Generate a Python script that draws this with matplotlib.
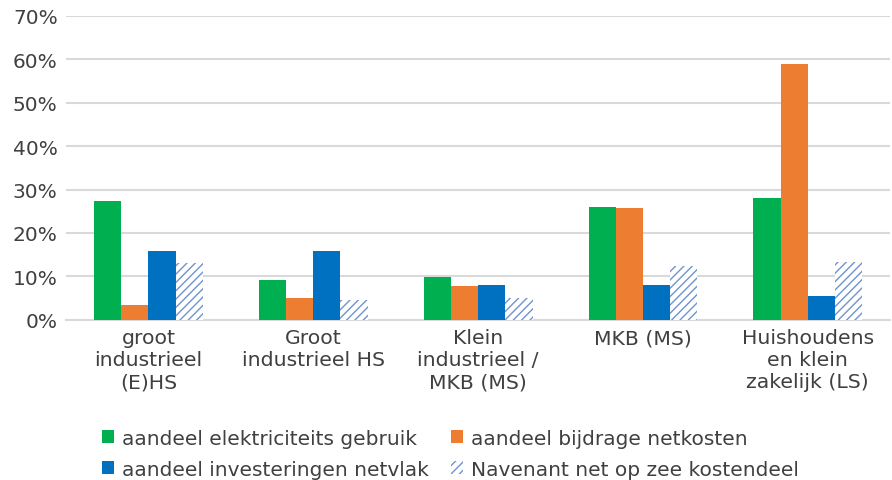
import numpy as np
import matplotlib.pyplot as plt
from matplotlib.ticker import PercentFormatter

categories = ['groot\nindustrieel\n(E)HS', 'Groot\nindustrieel HS', 'Klein\nindustrieel /\nMKB (MS)',
              'MKB (MS)', 'Huishoudens\nen klein\nzakelijk (LS)']
gebruik = [27.4, 9.2, 9.9, 26.0, 28.1]
netkosten = [3.5, 5.1, 7.8, 25.8, 58.8]
investeringen = [15.9, 15.9, 8.1, 8.1, 5.5]
net_op_zee = [13.1, 4.6, 5.0, 12.4, 13.4]

plt.rcParams['font.family'] = 'DejaVu Sans'
plt.rcParams['hatch.linewidth'] = 1.0

fig = plt.figure(figsize=(8.92, 4.81), dpi=100)
ax = fig.add_axes([0.074, 0.333, 0.924, 0.632])

x = np.arange(len(categories))
w = 0.165
b1 = ax.bar(x - 1.5 * w, gebruik, w, color='#00B050', label='aandeel elektriciteits gebruik', zorder=3)
b2 = ax.bar(x - 0.5 * w, netkosten, w, color='#ED7D31', label='aandeel bijdrage netkosten', zorder=3)
b3 = ax.bar(x + 0.5 * w, investeringen, w, color='#0070C0', label='aandeel investeringen netvlak', zorder=3)
b4 = ax.bar(x + 1.5 * w, net_op_zee, w, color='white', edgecolor='#6E93CE', hatch='////', linewidth=0,
            label='Navenant net op zee kostendeel', zorder=3)

ax.set_ylim(0, 70)
ax.set_xlim(-0.5, len(categories) - 0.5)
ax.set_yticks(range(0, 71, 10))
ax.yaxis.set_major_formatter(PercentFormatter(decimals=0))
ax.grid(axis='y', color='#D9D9D9', linewidth=1.5, zorder=0)
for s in ['top', 'right', 'left']:
    ax.spines[s].set_visible(False)
ax.spines['bottom'].set_color('#D9D9D9')
ax.spines['bottom'].set_linewidth(1.5)
ax.set_xticks(x)
ax.set_xticklabels(categories, fontsize=14.7, color='#404040', linespacing=1.2)
ax.tick_params(axis='both', length=0, pad=6)
ax.tick_params(axis='y', labelsize=14.5, labelcolor='#404040')

handles = [b1, b3, b2, b4]
leg = fig.legend(handles, [h.get_label() for h in handles], loc='lower center', ncol=2,
                 bbox_to_anchor=(0.505, -0.035), frameon=False,
                 fontsize=14.5, handlelength=0.6, handleheight=0.6, handletextpad=0.4,
                 columnspacing=1.1, labelspacing=0.6, labelcolor='#404040')

fig.savefig('out.png', dpi=100)
